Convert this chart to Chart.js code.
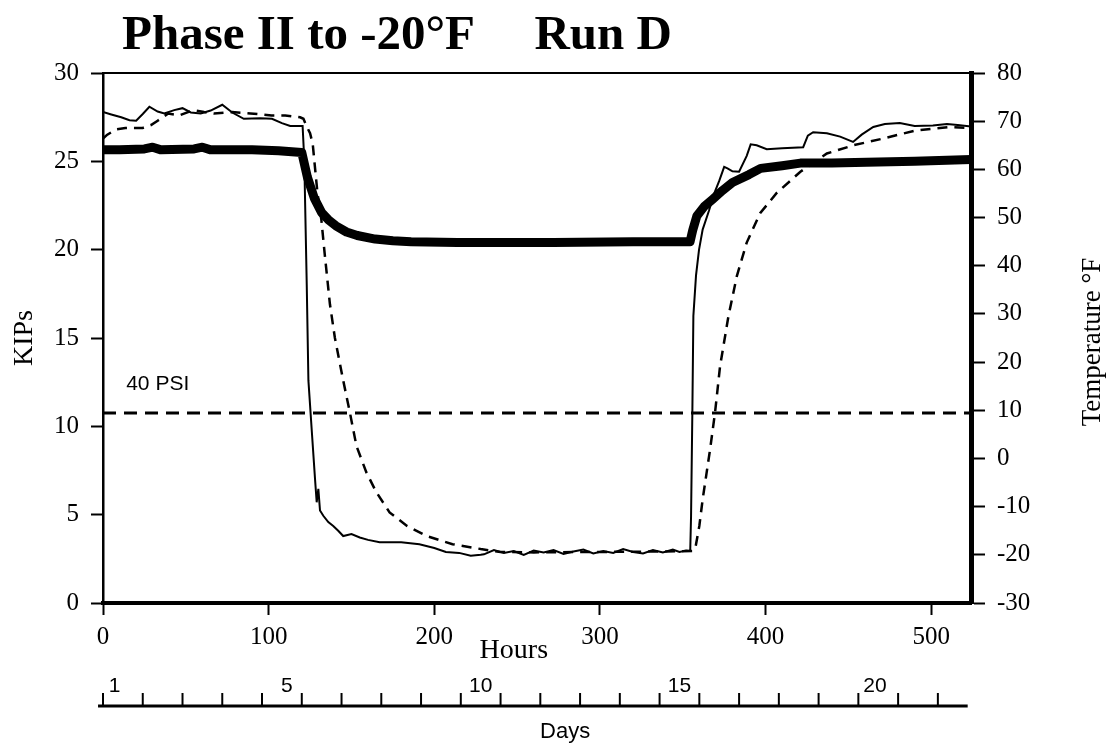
<!DOCTYPE html>
<html>
<head>
<meta charset="utf-8">
<title>Phase II to -20°F Run D</title>
<script src="https://cdn.jsdelivr.net/npm/chart.js@4.4.1/dist/chart.umd.min.js"></script>
<style>
  html, body { margin: 0; padding: 0; background: #fff; }
  #wrap { position: relative; width: 1118px; height: 747px; }
  #title {
    position: absolute; left: 122px; top: 8px; margin: 0;
    font: bold 49px "Liberation Serif", "Times New Roman", serif;
    line-height: 1; color: #000; white-space: pre;
  }
</style>
</head>
<body>
<div id="wrap">
  <canvas id="Chart1" width="1118" height="747"></canvas>
  <h1 id="title">Phase II to -20°F     Run D</h1>
</div>
<script>
// load on the bar (KIPs, left axis)
var loadHours = [0, 10, 25, 30, 35, 55, 60, 65, 90, 106, 120, 123.4, 127.6, 132, 136,
  140.6, 147, 153.5, 164.3, 175, 186, 214, 272, 320, 354.4, 356, 358.5, 363, 368, 374,
  380, 390, 397, 410, 421, 440, 461, 490, 524];
var loadKips = [25.65, 25.65, 25.7, 25.8, 25.65, 25.7, 25.8, 25.65, 25.65, 25.6, 25.5, 24.1, 22.9, 22.1, 21.7,
  21.35, 21.0, 20.8, 20.6, 20.5, 20.45, 20.4, 20.4, 20.45, 20.45, 21.1, 21.9, 22.45, 22.85, 23.35,
  23.8, 24.25, 24.6, 24.75, 24.9, 24.9, 24.95, 25.0, 25.1];

// solid thin temperature (deg F, right axis)
var solidHours = [0, 5, 11, 16, 20, 24, 28, 33, 37, 43, 48, 53, 59, 65, 72, 78, 85, 95, 102, 108,
  113, 120.5, 121.5, 123, 124, 126, 128, 129, 130, 131, 133, 136, 139, 142, 145, 150, 155, 160, 167, 180,
  191, 200, 207, 215, 222, 228, 230, 236, 242, 248, 254, 260, 266, 272, 278, 284, 290, 296, 302, 308,
  314, 320, 326, 332, 338, 344, 348, 352, 354.5, 355, 355.8, 356.4, 358, 359.8, 362, 365.8, 369, 372, 375, 377,
  380, 384, 388.6, 391, 394.6, 400.7, 410, 422.7, 425.5, 428.7, 437, 445, 452.8, 458, 465, 472, 481, 490, 501, 509.5,
  516, 524];
var solidTemp = [71.9, 71.4, 70.8, 70.2, 70.1, 71.5, 73.0, 72.0, 71.6, 72.3, 72.7, 71.8, 71.6, 72.2, 73.4, 71.8, 70.5, 70.6, 70.5, 69.6,
  69.0, 69.0, 62, 36, 16.2, 5.9, -4.3, -9.1, -6.3, -10.8, -11.9, -13.2, -14.0, -15.0, -16.1, -15.7, -16.4, -16.9, -17.4, -17.4,
  -17.8, -18.6, -19.4, -19.6, -20.2, -20.0, -19.9, -19.0, -19.6, -19.2, -20.0, -19.1, -19.5, -19.0, -19.8, -19.3, -18.9, -19.7, -19.2, -19.6,
  -18.8, -19.4, -19.7, -19.0, -19.5, -18.9, -19.4, -19.1, -19.2, -12, 10, 29.6, 38, 43.3, 47.5, 51.4, 55, 57.6, 60.5, 60.2,
  59.6, 59.5, 62.8, 65.2, 65.0, 64.2, 64.4, 64.6, 67.0, 67.7, 67.5, 66.8, 65.7, 67.2, 68.8, 69.4, 69.6, 69.0, 69.1, 69.4,
  69.2, 68.9];

// dashed temperature (deg F, right axis)
var dashedHours = [0, 2.6, 8, 13.5, 24, 29, 33, 39.4, 46, 54.5, 61, 67, 78, 89, 101.7, 110, 119, 121, 123.4, 125,
  126.6, 127.6, 129.5, 131.8, 134, 137, 140, 145, 149, 153, 159, 165, 173, 183.5, 195.5, 211, 228, 240, 260, 300,
  340, 356, 357.5, 360, 362, 366.5, 369.5, 372.5, 377.5, 382.6, 388.6, 396.7, 406.7, 421, 437, 453, 471, 491, 511, 524];
var dashedTemp = [66.4, 67.2, 68.3, 68.6, 68.6, 69.2, 70.1, 71.6, 71.2, 72.3, 71.9, 71.6, 71.9, 71.6, 71.2, 71.2, 70.8, 70.5, 68.6, 67.5,
  65.3, 61.7, 55.0, 49.6, 41.9, 32.0, 25.0, 16.2, 9.6, 2.6, -2.9, -7.0, -11.2, -14.0, -16.1, -17.8, -18.8, -19.4, -19.5, -19.4,
  -19.3, -19.2, -18.8, -14.0, -8.5, 1.9, 9.6, 19.1, 29.4, 37.8, 44.8, 50.9, 55.1, 59.5, 63.3, 65.0, 66.4, 68.1, 68.8, 68.6];

// 40 PSI reference load
var psiLabel = '40 PSI';
var psiKips = 10.75;

// axis ranges
var hourRange = [0, 524];
var kipsRange = [0, 30];
var tempRange = [-30, 80];

// day scale under the hours axis
var dayTickHours = [0, 24, 48, 72, 96, 120, 144, 168, 192, 216, 240, 264, 288, 312, 336, 360, 384, 408, 432, 456, 480, 504];
var dayLabels = ['1', '5', '10', '15', '20'];
var dayLabelHours = [7, 111, 228, 348, 466];
var dayAxisSpan = [-3, 522];

var serif = '"Liberation Serif", "Times New Roman", Times, serif';
var sans = '"Liberation Sans", Arial, Helvetica, sans-serif';

function pts(xs, ys) {
  return xs.map(function (h, i) { return { x: h, y: ys[i] }; });
}

// top frame line, notes, hours title, day scale, right title
var extras = {
  id: 'extras',
  afterDraw: function (chart) {
    var c = chart.ctx, a = chart.chartArea, x = chart.scales.x, y = chart.scales.y;
    c.save();
    c.strokeStyle = '#000';
    c.fillStyle = '#000';
    c.lineWidth = 2;
    c.beginPath(); c.moveTo(a.left, a.top); c.lineTo(a.right, a.top); c.stroke();

    c.font = '21px ' + sans;
    c.textAlign = 'left';
    c.textBaseline = 'middle';
    c.fillText(psiLabel, x.getPixelForValue(14), y.getPixelForValue(12.4));

    c.font = '28px ' + serif;
    c.textAlign = 'center';
    c.fillText('Hours', x.getPixelForValue(248), a.bottom + 48);

    var base = a.bottom + 103;
    c.lineWidth = 3;
    c.beginPath();
    c.moveTo(x.getPixelForValue(dayAxisSpan[0]), base);
    c.lineTo(x.getPixelForValue(dayAxisSpan[1]), base);
    c.stroke();
    c.lineWidth = 2;
    dayTickHours.forEach(function (h) {
      var px = x.getPixelForValue(h);
      c.beginPath(); c.moveTo(px, base); c.lineTo(px, base - 13); c.stroke();
    });
    c.font = '21px ' + sans;
    c.textBaseline = 'alphabetic';
    dayLabels.forEach(function (t, i) {
      c.fillText(t, x.getPixelForValue(dayLabelHours[i]), base - 14);
    });
    c.font = '22px ' + sans;
    c.textBaseline = 'middle';
    c.fillText('Days', x.getPixelForValue(279), base + 26);

    c.translate(chart.width - 25, (a.top + a.bottom) / 2 + 4);
    c.rotate(-Math.PI / 2);
    c.font = '27px ' + serif;
    c.fillText('Temperature °F', 0, 0);
    c.restore();
  }
};

var tickFont = { family: serif, size: 25 };

var ctx1 = document.getElementById('Chart1').getContext('2d');
var chart1 = new Chart(ctx1, {
  type: 'line',
  data: {
    datasets: [
      {
        label: 'Load',
        data: pts(loadHours, loadKips),
        yAxisID: 'y',
        borderColor: '#000',
        borderWidth: 9,
        borderJoinStyle: 'round',
        pointRadius: 0
      },
      {
        label: 'Temperature (solid)',
        data: pts(solidHours, solidTemp),
        yAxisID: 'y2',
        borderColor: '#000',
        borderWidth: 2,
        pointRadius: 0
      },
      {
        label: 'Temperature (dashed)',
        data: pts(dashedHours, dashedTemp),
        yAxisID: 'y2',
        borderColor: '#000',
        borderWidth: 2.5,
        borderDash: [10, 7],
        pointRadius: 0
      },
      {
        label: psiLabel,
        data: pts(hourRange, [psiKips, psiKips]),
        yAxisID: 'y',
        borderColor: '#000',
        borderWidth: 3,
        borderDash: [13, 8],
        pointRadius: 0
      }
    ]
  },
  options: {
    responsive: false,
    animation: false,
    layout: { padding: { top: 73, bottom: 77, left: 0, right: 0 } },
    plugins: {
      legend: { display: false },
      tooltip: { enabled: false }
    },
    scales: {
      x: {
        type: 'linear',
        position: 'bottom',
        min: hourRange[0],
        max: hourRange[1],
        ticks: { stepSize: 100, includeBounds: false, font: tickFont, color: '#000', padding: 7, maxRotation: 0 },
        grid: { drawOnChartArea: false, tickLength: 12, tickWidth: 2, tickColor: '#000' },
        border: { color: '#000', width: 4 },
        afterFit: function (s) { s.height = 67; }
      },
      y: {
        position: 'left',
        min: kipsRange[0],
        max: kipsRange[1],
        ticks: { stepSize: 5, font: tickFont, color: '#000', padding: 12 },
        grid: { drawOnChartArea: false, tickLength: 12, tickWidth: 2, tickColor: '#000' },
        border: { color: '#000', width: 2.5 },
        title: { display: true, text: 'KIPs', font: { family: serif, size: 28 }, color: '#000', padding: { top: 8, bottom: 0 } },
        afterFit: function (s) { s.width = 103; }
      },
      y2: {
        position: 'right',
        min: tempRange[0],
        max: tempRange[1],
        ticks: { stepSize: 10, font: tickFont, color: '#000', padding: 12 },
        grid: { drawOnChartArea: false, tickLength: 14, tickWidth: 2, tickColor: '#000' },
        border: { color: '#000', width: 5 },
        afterFit: function (s) { s.width = 147; }
      }
    }
  },
  plugins: [extras]
});
</script>
</body>
</html>
